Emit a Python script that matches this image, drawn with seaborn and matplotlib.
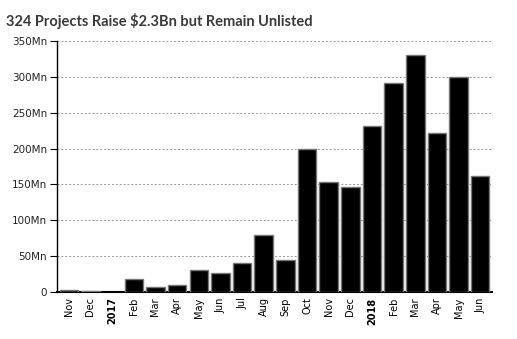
import matplotlib
matplotlib.use("Agg")
import matplotlib.pyplot as plt
import seaborn as sns
import pandas as pd
from matplotlib.ticker import FuncFormatter

months = ["2016-11", "2016-12", "2017-01", "2017-02", "2017-03", "2017-04", "2017-05",
          "2017-06", "2017-07", "2017-08", "2017-09", "2017-10", "2017-11", "2017-12",
          "2018-01", "2018-02", "2018-03", "2018-04", "2018-05", "2018-06"]
tick_labels = ["Nov", "Dec", "2017", "Feb", "Mar", "Apr", "May", "Jun", "Jul", "Aug",
               "Sep", "Oct", "Nov", "Dec", "2018", "Feb", "Mar", "Apr", "May", "Jun"]
raised_mn = [2.5, 1, 0, 18, 7, 9, 30.5, 26, 40, 79, 44, 200, 154, 146,
             232, 292, 330, 221, 300, 161]
yticks = [0, 50, 100, 150, 200, 250, 300, 350]
title = "324 Projects Raise $2.3Bn but Remain Unlisted"

df = pd.DataFrame({"month": months, "raised": raised_mn})

sns.set_style("white")
plt.rcParams["font.family"] = ["DejaVu Sans"]

fig = plt.figure(figsize=(5.17, 3.39), dpi=100)
ax = fig.add_axes([0.110, 0.139, 0.842, 0.740])

sns.barplot(data=df, x="month", y="raised", color="black", edgecolor="#777777",
            linewidth=1.0, width=0.85, saturation=1, ax=ax, zorder=3)
for p in ax.patches:
    if p.get_height() == 0:
        p.set_linewidth(0)

ax.set_ylim(0, 350)
ax.set_xlim(-0.55, len(months) - 0.45)
ax.set_yticks(yticks)
ax.yaxis.set_major_formatter(FuncFormatter(lambda v, p: "0" if v == 0 else f"{int(v)}Mn"))
ax.yaxis.grid(True, linestyle=(0, (2, 2)), color="#999999", linewidth=0.7, zorder=0)
ax.xaxis.grid(False)
ax.set_axisbelow(True)

ax.set_xticks(range(len(months)))
ax.set_xticklabels(tick_labels, rotation=90, fontsize=7)
for lbl in ax.get_xticklabels():
    if lbl.get_text() in ("2017", "2018"):
        lbl.set_fontweight("bold")
ax.tick_params(axis="x", length=0, pad=4, colors="black")
ax.tick_params(axis="y", length=5, width=0.8, color="black", labelsize=7.5, pad=2, left=True)
for lbl in ax.get_yticklabels():
    lbl.set_color("#222222")

ax.set_xlabel("")
ax.set_ylabel("")
for side in ("top", "right"):
    ax.spines[side].set_visible(False)
ax.spines["left"].set_color("black")
ax.spines["left"].set_linewidth(1.0)
ax.spines["bottom"].set_color("black")
ax.spines["bottom"].set_linewidth(1.5)

fig.text(0.012, 0.962, title, fontsize=10.5, fontweight="bold", color="#3a3a3a",
         family="Lato", ha="left", va="top")

fig.savefig("out.png", dpi=100)
